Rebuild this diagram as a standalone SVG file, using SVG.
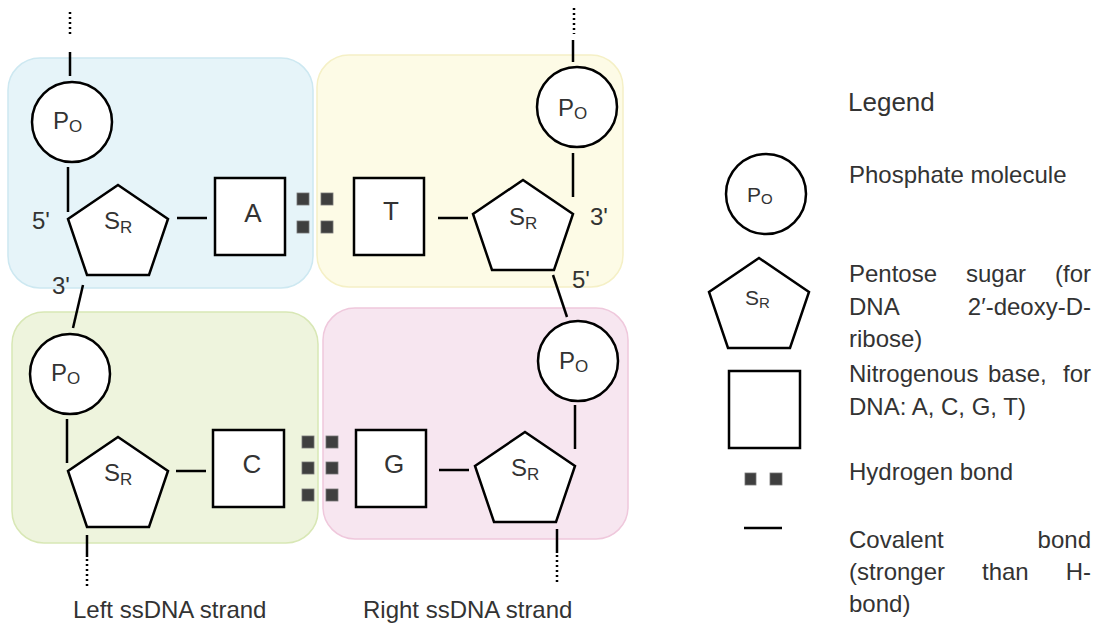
<svg xmlns="http://www.w3.org/2000/svg" width="1098" height="626" viewBox="0 0 1098 626">
<style>
text{font-family:"Liberation Sans",Arial,sans-serif;fill:#333;}
.t{font-size:24px;}
.s{font-size:24px;}
.sub{font-size:17px;}
.lsym{font-size:21px;}
.lsub{font-size:15px;}
.base{font-size:26px;text-anchor:middle;}
.shape{fill:#fff;stroke:#000;stroke-width:2.5;}
.bond{stroke:#000;stroke-width:2.5;fill:none;}
.dot{stroke:#000;stroke-width:2.5;stroke-dasharray:2 3;fill:none;}
.hb{fill:#3f3f3f;stroke:#777;stroke-width:0.8;}
</style>
<defs>
<polygon id="pent" points="0,0 50,34 31,90 -31,90 -50,34"/>
</defs>
<!-- background regions -->
<g id="regions">
<rect x="8" y="58" width="305" height="230" rx="32" fill="#e6f4f9" stroke="#cde8f1" stroke-width="1.5"/>
<rect x="317" y="55" width="306" height="232" rx="32" fill="#fdfbe6" stroke="#f5f0c6" stroke-width="1.5"/>
<rect x="12" y="312" width="306" height="231" rx="32" fill="#eef4dd" stroke="#d8e7b5" stroke-width="1.5"/>
<rect x="323" y="308" width="305" height="231" rx="32" fill="#f7e6f0" stroke="#efc8dc" stroke-width="1.5"/>
</g>
<!-- connectors -->
<g id="connectors">
<line class="dot" x1="70" y1="12" x2="70" y2="36"/>
<line class="bond" x1="70" y1="52" x2="70" y2="76"/>
<line class="bond" x1="68" y1="167" x2="68" y2="212"/>
<line class="bond" x1="177" y1="218" x2="207" y2="218"/>
<line class="bond" x1="83" y1="285" x2="73" y2="328"/>
<line class="bond" x1="67" y1="419" x2="67" y2="463"/>
<line class="bond" x1="176" y1="471" x2="206" y2="471"/>
<line class="bond" x1="87" y1="535" x2="87" y2="557"/>
<line class="dot" x1="87" y1="559" x2="87" y2="586"/>
<line class="dot" x1="574" y1="8" x2="574" y2="34"/>
<line class="bond" x1="573" y1="40" x2="573" y2="62"/>
<line class="bond" x1="573" y1="153" x2="573" y2="197"/>
<line class="bond" x1="438" y1="218" x2="468" y2="218"/>
<line class="bond" x1="553" y1="275" x2="567" y2="317"/>
<line class="bond" x1="575" y1="405" x2="575" y2="449"/>
<line class="bond" x1="439" y1="470" x2="469" y2="470"/>
<line class="bond" x1="557" y1="529" x2="557" y2="553"/>
<line class="dot" x1="557" y1="555" x2="557" y2="583"/>
<!-- hydrogen bonds -->
<rect class="hb" x="297" y="193" width="12" height="12"/>
<rect class="hb" x="321" y="193" width="12" height="12"/>
<rect class="hb" x="297" y="221" width="12" height="12"/>
<rect class="hb" x="321" y="221" width="12" height="12"/>
<rect class="hb" x="302" y="436" width="12" height="12"/>
<rect class="hb" x="326" y="436" width="12" height="12"/>
<rect class="hb" x="302" y="462" width="12" height="12"/>
<rect class="hb" x="326" y="462" width="12" height="12"/>
<rect class="hb" x="302" y="489" width="12" height="12"/>
<rect class="hb" x="326" y="489" width="12" height="12"/>
</g>
<!-- left strand nodes -->
<g id="phos-tl"><circle class="shape" cx="72" cy="122" r="40"/><text class="t" x="53" y="129">P<tspan class="sub" dy="3">O</tspan></text></g>
<g id="sugar-tl"><use href="#pent" class="shape" x="118" y="185"/><text class="s" x="104" y="229">S<tspan class="sub" dy="4">R</tspan></text></g>
<g id="base-A"><rect class="shape" x="215" y="178" width="70" height="77"/><text class="base" x="253" y="222">A</text></g>
<g id="phos-bl"><circle class="shape" cx="70" cy="374" r="40"/><text class="t" x="51" y="381">P<tspan class="sub" dy="3">O</tspan></text></g>
<g id="sugar-bl"><use href="#pent" class="shape" x="118" y="437"/><text class="s" x="104" y="481">S<tspan class="sub" dy="4">R</tspan></text></g>
<g id="base-C"><rect class="shape" x="213" y="430" width="71" height="77"/><text class="base" x="252" y="473">C</text></g>
<!-- right strand nodes -->
<g id="phos-tr"><circle class="shape" cx="577" cy="107" r="40"/><text class="t" x="558" y="116">P<tspan class="sub" dy="3">O</tspan></text></g>
<g id="sugar-tr"><use href="#pent" class="shape" x="523" y="180"/><text class="s" x="509" y="225">S<tspan class="sub" dy="4">R</tspan></text></g>
<g id="base-T"><rect class="shape" x="354" y="178" width="70" height="77"/><text class="base" x="391" y="220">T</text></g>
<g id="phos-br"><circle class="shape" cx="578" cy="361" r="40"/><text class="t" x="559" y="369">P<tspan class="sub" dy="3">O</tspan></text></g>
<g id="sugar-br"><use href="#pent" class="shape" x="525" y="432"/><text class="s" x="511" y="476">S<tspan class="sub" dy="4">R</tspan></text></g>
<g id="base-G"><rect class="shape" x="356" y="430" width="70" height="77"/><text class="base" x="394" y="473">G</text></g>
<!-- end labels -->
<g id="end-labels">
<text class="t" x="32" y="229">5'</text>
<text class="t" x="52" y="294">3'</text>
<text class="t" x="590" y="225">3'</text>
<text class="t" x="572" y="288">5'</text>
<text class="t" x="73" y="618">Left ssDNA strand</text>
<text class="t" x="363" y="618">Right ssDNA strand</text>
</g>
<!-- legend -->
<g id="legend">
<text x="848" y="111" style="font-size:26px">Legend</text>
<circle class="shape" cx="766" cy="194" r="40"/>
<text class="lsym" x="747" y="202">P<tspan class="lsub" dy="2">O</tspan></text>
<text class="t" x="849" y="183">Phosphate molecule</text>
<use href="#pent" class="shape" x="759" y="258"/>
<text class="lsym" x="745" y="305">S<tspan class="lsub" dy="3">R</tspan></text>
<text class="t" y="282"><tspan x="849">Pentose</tspan><tspan x="966">sugar</tspan><tspan x="1091" text-anchor="end">(for</tspan></text>
<text class="t" y="315"><tspan x="849">DNA</tspan><tspan x="1091" text-anchor="end">2′-deoxy-D-</tspan></text>
<text class="t" x="849" y="347">ribose)</text>
<rect class="shape" x="729" y="371" width="71" height="77"/>
<text class="t" y="382"><tspan x="849">Nitrogenous</tspan><tspan x="988">base,</tspan><tspan x="1091" text-anchor="end">for</tspan></text>
<text class="t" x="849" y="415">DNA: A, C, G, T)</text>
<rect class="hb" x="745" y="473" width="11" height="12"/>
<rect class="hb" x="770" y="473" width="12" height="12"/>
<text class="t" x="849" y="480">Hydrogen bond</text>
<line class="bond" x1="744" y1="528" x2="782" y2="528"/>
<text class="t" y="548"><tspan x="849">Covalent</tspan><tspan x="1091" text-anchor="end">bond</tspan></text>
<text class="t" y="580"><tspan x="849">(stronger</tspan><tspan x="982">than</tspan><tspan x="1091" text-anchor="end">H-</tspan></text>
<text class="t" x="849" y="612">bond)</text>
</g>
</svg>
